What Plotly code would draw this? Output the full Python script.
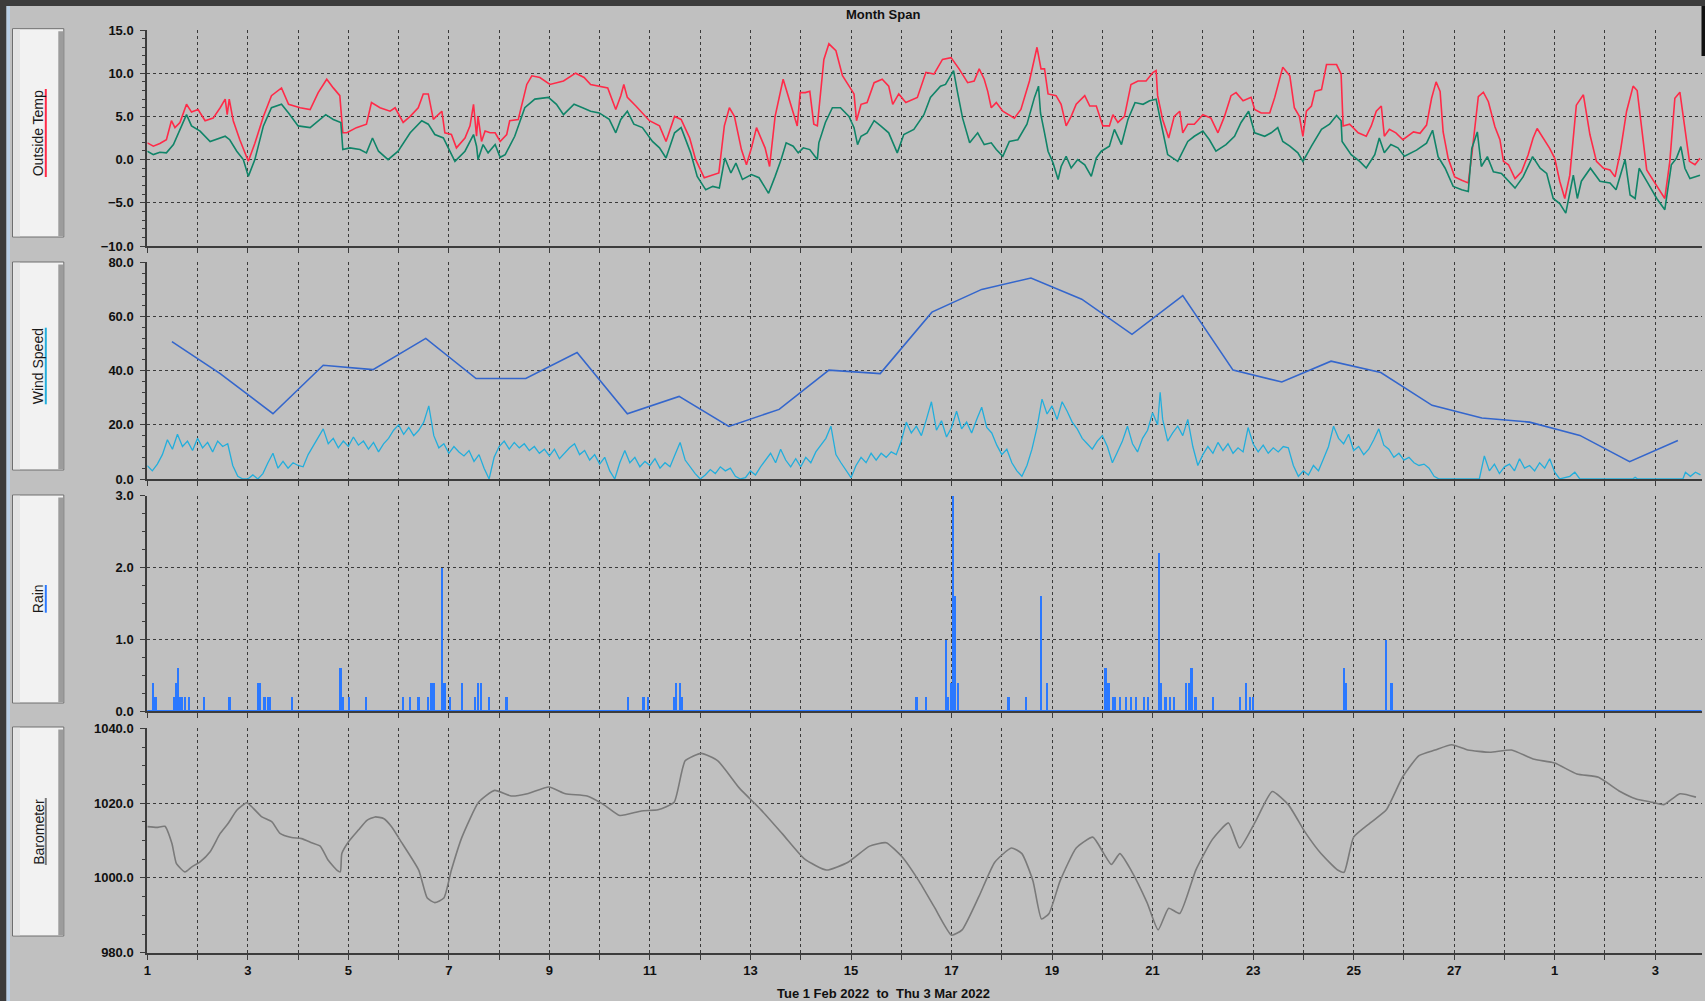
import plotly.graph_objects as go

# ---------------- DATA (day offset from Tue 1 Feb 2022 00:00) ----------------
temp_day = [0.0,0.12,0.25,0.38,0.48,0.55,0.65,0.78,0.88,1.01,1.15,1.31,1.45,1.55,1.59,1.63,1.71,1.84,2.01,2.14,2.31,2.47,2.67,2.81,3.04,3.24,3.40,3.57,3.70,3.83,3.89,3.97,4.16,4.36,4.46,4.63,4.83,4.93,5.09,5.23,5.39,5.49,5.59,5.69,5.86,5.92,6.05,6.15,6.32,6.42,6.49,6.55,6.58,6.65,6.72,6.82,6.92,7.02,7.15,7.21,7.38,7.55,7.65,7.81,8.01,8.28,
            8.52,8.69,8.82,8.99,9.16,9.32,9.42,9.48,9.55,9.72,9.89,9.99,10.19,10.32,10.49,10.62,10.79,10.91,11.08,11.25,11.37,11.48,11.58,11.68,11.82,11.92,12.02,12.12,12.22,12.29,12.38,12.49,12.65,12.79,12.93,12.99,13.09,13.18,13.26,13.33,13.46,13.56,13.70,13.83,14.00,14.06,14.11,14.20,14.32,14.46,14.62,14.75,14.83,14.95,15.09,15.32,15.49,15.65,15.82,15.99,16.15,16.32,16.45,16.55,16.65,
            16.72,16.79,16.89,17.02,17.25,17.38,17.55,17.70,17.78,17.85,17.92,18.08,18.18,18.28,18.38,18.48,18.65,18.75,18.88,19.01,19.14,19.21,19.31,19.44,19.57,19.71,19.87,20.01,20.07,20.10,20.20,20.32,20.43,20.54,20.60,20.70,20.83,21.00,21.16,21.30,21.43,21.56,21.66,21.80,21.96,22.03,22.16,22.33,22.43,22.59,22.73,22.82,22.92,22.99,23.06,23.16,23.23,23.36,23.46,23.66,23.75,23.79,23.92,24.09,24.25,24.35,24.45,24.55,24.61,24.71,24.84,24.98,
            25.19,25.32,25.45,25.55,25.64,25.72,25.78,25.88,26.01,26.15,26.28,26.35,26.48,26.58,26.68,26.81,26.91,26.98,27.08,27.21,27.34,27.47,27.57,27.65,27.77,27.90,28.00,28.10,28.20,28.30,28.43,28.57,28.70,28.83,28.97,29.10,29.20,29.30,29.43,29.56,29.64,29.73,29.83,29.96,30.09,30.19,30.29,30.39,30.49,30.59,30.68,30.79,30.89]
temp_val = [1.94,1.55,1.86,2.3,4.5,3.7,4.3,6.4,5.5,5.8,4.5,4.8,6.0,7.0,5.2,7.0,4.5,2.3,-0.2,1.9,5.0,7.4,8.3,6.4,6.0,5.8,7.75,9.3,8.3,7.4,3.1,3.1,3.7,4.1,6.6,6.0,5.6,6.0,4.3,5.0,6.0,7.6,7.6,4.65,5.6,3.1,2.9,1.36,2.5,3.9,6.4,2.7,5.0,2.1,3.3,3.1,3.1,2.1,2.9,4.5,4.65,8.7,9.7,9.5,8.7,9.1,
            10.0,9.5,8.7,8.5,8.3,5.8,7.4,8.7,7.2,6.2,5.2,4.5,3.9,2.1,5.0,4.65,2.5,0.0,-2.1,-1.74,-1.55,3.9,6.0,5.0,1.16,-0.6,1.36,3.7,2.3,1.36,-0.8,5.0,9.3,6.6,3.9,7.75,7.75,7.9,4.1,3.9,11.6,13.4,12.6,9.7,8.1,7.6,4.5,6.4,6.6,8.9,9.3,8.5,6.4,7.6,6.6,7.2,10.1,9.9,11.6,11.8,10.5,8.9,9.1,10.5,9.3,
            7.9,6.0,6.6,5.6,4.8,5.8,9.1,13.0,10.5,10.5,7.6,7.4,6.4,3.9,5.0,6.4,7.4,6.2,6.2,3.9,3.9,5.2,4.3,5.0,8.7,9.1,9.1,10.1,10.3,7.4,4.65,2.5,5.0,5.6,3.1,4.1,4.1,5.2,4.8,3.1,5.0,7.4,7.75,6.8,7.2,5.8,5.4,5.4,7.2,10.7,9.7,6.0,5.0,2.7,5.6,6.2,7.9,8.1,11.0,11.0,9.9,3.9,4.1,3.1,2.7,3.9,5.6,6.2,2.7,3.5,3.1,2.3,
            3.2,3.05,4.0,7.1,9.0,7.9,3.2,0.15,-2.0,-2.4,-2.7,0.54,7.3,7.8,6.7,3.8,2.3,-0.2,-0.6,-2.2,-1.4,0.54,2.5,3.6,2.5,1.3,0.15,-2.5,-4.5,-1.8,6.3,7.5,2.9,-0.2,-1.0,-1.2,-2.0,0.73,5.6,8.5,8.0,3.6,-1.2,-2.4,-3.5,-4.5,-0.2,7.1,7.8,3.6,-0.2,-0.6,0.15]

dew_day = [0.0,0.12,0.25,0.38,0.52,0.65,0.78,0.88,1.05,1.25,1.45,1.55,1.64,1.78,1.91,2.01,2.14,2.31,2.47,2.67,2.81,3.00,3.24,3.40,3.55,3.70,3.85,3.89,4.03,4.23,4.36,4.48,4.60,4.79,4.99,5.23,5.46,5.59,5.72,5.89,6.12,6.32,6.49,6.55,6.58,6.68,6.78,6.92,7.02,7.12,7.31,7.51,7.71,7.98,8.14,8.28,
           8.49,8.66,8.82,8.99,9.19,9.32,9.42,9.55,9.68,9.85,10.05,10.19,10.32,10.49,10.62,10.81,10.94,11.11,11.25,11.38,11.49,11.61,11.71,11.84,12.02,12.17,12.36,12.49,12.61,12.71,12.85,12.95,13.05,13.18,13.33,13.36,13.49,13.63,13.79,13.96,14.06,14.13,14.20,14.32,14.46,14.59,14.75,14.92,15.05,15.25,15.45,15.58,15.78,15.88,16.04,16.12,16.22,16.36,16.52,16.65,
           16.79,16.89,17.02,17.15,17.32,17.50,17.65,17.73,17.77,17.85,17.92,18.02,18.12,18.18,18.28,18.38,18.51,18.65,18.78,18.88,18.98,19.14,19.24,19.38,19.51,19.65,19.81,19.94,20.07,20.14,20.30,20.50,20.70,20.83,21.00,21.13,21.26,21.46,21.63,21.76,21.91,22.03,22.23,22.36,22.49,22.59,22.73,22.89,22.99,23.16,23.36,23.52,23.66,23.75,23.77,23.95,24.12,24.25,24.42,24.51,24.61,24.74,24.88,25.01,
           25.25,25.45,25.57,25.68,25.82,25.98,26.15,26.28,26.35,26.46,26.54,26.66,26.78,26.94,27.08,27.21,27.37,27.56,27.71,27.84,27.97,28.10,28.22,28.37,28.45,28.53,28.71,28.90,29.10,29.22,29.40,29.50,29.60,29.68,29.83,30.03,30.19,30.32,30.42,30.51,30.59,30.69,30.89]
dew_val = [0.97,0.58,0.85,0.78,1.74,3.5,5.2,3.9,3.3,2.1,2.5,2.7,2.3,0.97,0.0,-1.94,0.0,3.9,6.0,6.4,5.4,3.9,3.7,4.5,5.2,4.65,4.3,1.16,1.36,1.16,0.78,2.5,0.97,0.0,0.97,3.1,4.5,4.1,2.9,2.5,-0.2,0.97,2.9,1.55,0.0,1.74,0.78,1.74,0.27,0.58,2.7,6.0,7.0,7.2,6.4,5.2,
           6.4,6.0,5.6,5.4,4.65,3.1,4.65,5.6,4.1,3.7,2.1,1.36,0.19,3.1,3.7,0.78,-1.94,-3.5,-3.1,-3.3,0.19,-1.55,-0.4,-2.3,-1.74,-2.1,-3.9,-1.94,0.0,1.94,1.55,0.78,1.36,1.16,0.0,1.94,4.3,6.0,6.0,5.0,3.7,1.74,2.7,3.1,4.5,3.9,3.1,0.78,2.9,3.5,5.2,7.2,8.5,8.7,10.3,7.75,4.8,1.94,3.1,1.74,
           1.94,1.16,0.39,2.1,2.3,4.1,7.2,8.5,5.4,3.1,0.97,-0.4,-2.3,-0.8,0.39,-0.97,0.0,-0.6,-1.94,0.19,0.97,1.55,3.5,1.74,4.65,6.6,6.4,6.8,7.0,5.0,0.58,-0.2,2.1,2.7,3.3,2.3,0.97,1.74,2.7,4.3,5.6,3.1,2.7,3.1,3.7,2.1,1.55,0.78,-0.2,1.55,3.5,4.1,5.1,4.5,2.1,0.58,-0.2,-0.97,0.58,2.5,0.78,1.74,1.36,0.39,
           1.1,1.9,3.4,0.35,-1.0,-3.1,-3.5,-3.7,1.3,3.2,-0.8,0.35,-1.4,-1.6,-2.5,-3.3,-2.0,0.35,-1.0,-1.6,-4.5,-5.1,-6.2,-1.8,-4.5,-2.5,-1.0,-2.5,-2.7,-3.5,0.0,-4.1,-4.5,-1.0,-2.5,-4.5,-5.8,-0.6,0.15,1.5,-1.0,-2.2,-1.8]

gust_day = [0.49,1.45,2.50,3.50,4.49,5.54,6.54,7.53,8.55,9.55,10.58,11.57,12.57,13.56,14.58,15.61,16.60,17.58,18.59,19.59,20.60,21.60,22.57,23.55,24.54,25.56,26.55,27.50,28.50,29.49,30.45]
gust_val = [50.7,38.9,24.1,42.0,40.4,51.9,37.1,37.1,46.7,24.1,30.5,19.4,25.7,40.2,38.9,61.6,70.0,74.2,66.4,53.4,67.7,40.2,35.8,43.5,39.3,27.2,22.5,21.0,16.1,6.4,14.2]

wind_day = [0.0,0.1,0.2,0.3,0.4,0.5,0.6,0.7,0.8,0.9,1.0,1.1,1.2,1.3,1.4,1.5,1.6,1.7,1.8,1.9,2.0,2.1,2.2,2.3,2.4,2.5,2.6,2.7,2.8,2.9,
            3.0,3.1,3.2,3.3,3.4,3.5,3.6,3.7,3.8,3.9,4.0,4.1,4.2,4.3,4.4,4.5,4.6,4.7,4.8,4.9,5.0,5.1,5.2,5.3,5.4,5.5,5.6,5.7,5.8,5.9,
            6.0,6.1,6.2,6.3,6.4,6.5,6.6,6.7,6.8,6.9,7.0,7.1,7.2,7.3,7.4,7.5,7.6,7.7,7.8,7.9,8.0,8.1,8.2,8.3,8.4,8.5,8.6,8.7,8.8,8.9,
            9.0,9.1,9.2,9.3,9.4,9.5,9.6,9.7,9.8,9.9,10.0,10.1,10.2,10.3,10.4,10.5,10.6,10.7,10.8,10.9,11.0,11.1,11.2,11.3,11.4,11.5,11.6,11.7,11.8,11.9,
            12.0,12.1,12.2,12.3,12.4,12.5,12.6,12.7,12.8,12.9,13.0,13.1,13.2,13.3,13.4,13.5,13.6,13.7,13.8,13.9,14.0,14.1,14.2,14.3,14.4,14.5,14.6,14.7,14.8,14.9,
            15.0,15.1,15.2,15.3,15.4,15.5,15.6,15.7,15.8,15.9,16.0,16.1,16.2,16.3,16.4,16.5,16.6,16.7,16.8,16.9,17.0,17.1,17.2,17.3,17.4,17.5,17.6,17.7,17.8,17.9,
            18.0,18.1,18.2,18.3,18.4,18.5,18.6,18.7,18.8,18.9,19.0,19.1,19.2,19.3,19.4,19.5,19.6,19.7,19.8,19.9,20.0,20.1,20.15,20.2,20.3,20.4,20.5,20.6,20.7,20.8,20.9,
            21.0,21.1,21.2,21.3,21.4,21.5,21.6,21.7,21.8,21.9,22.0,22.1,22.2,22.3,22.4,22.5,22.6,22.7,22.8,22.9,23.0,23.1,23.2,23.3,23.4,23.5,23.6,23.7,23.8,23.9,
            24.0,24.1,24.2,24.3,24.4,24.5,24.6,24.7,24.8,24.9,25.0,25.1,25.2,25.3,25.4,25.5,25.6,25.7,26.5,26.6,26.7,26.8,26.9,27.0,27.1,27.2,27.3,27.4,27.5,27.6,
            27.7,27.8,27.9,28.0,28.1,28.3,28.4,28.5,29.55,29.6,29.65,30.55,30.6,30.7,30.8,30.9]
wind_val = [4.9,3.0,5.5,9.0,14.5,11.0,16.5,12.0,14.0,10.5,15.0,11.5,13.5,10.0,14.0,12.0,13.0,5.0,1.0,0.0,0.0,1.5,0.0,2.0,6.0,9.5,4.0,6.5,4.0,6.0,
            5.0,4.5,9.0,12.0,15.5,18.5,13.0,15.0,11.5,14.0,12.0,15.5,12.5,14.0,11.0,13.5,10.0,13.0,15.0,18.0,20.0,16.5,19.0,16.0,18.0,21.0,27.0,16.0,11.5,13.0,
            9.5,12.0,10.0,8.5,10.5,6.5,9.0,4.0,0.0,8.0,12.0,14.0,11.0,13.5,11.5,13.0,10.5,12.0,9.5,11.0,8.5,11.0,7.5,9.5,11.5,13.0,9.0,10.5,7.0,9.0,
            5.5,8.0,3.0,0.0,6.0,10.5,6.0,8.0,4.5,6.5,5.0,7.5,4.0,6.0,4.5,9.0,13.5,7.0,4.5,2.0,0.0,1.5,3.5,2.0,4.5,3.0,4.0,1.0,0.0,0.5,
            3.0,1.5,4.5,7.0,9.5,6.0,11.0,7.0,4.5,7.5,4.5,8.0,6.0,10.0,12.5,15.0,19.5,9.0,6.0,3.0,0.5,5.0,8.0,6.0,9.5,7.0,9.5,8.0,10.0,9.0,
            14.0,21.0,17.0,19.5,16.0,22.0,28.5,18.0,21.5,15.5,19.0,25.0,18.5,21.0,17.0,22.0,26.5,19.0,17.0,12.5,9.0,11.0,6.0,3.0,1.0,5.0,11.0,19.0,29.5,24.0,
            27.0,22.0,28.5,25.0,21.0,18.5,15.0,13.0,11.0,14.0,16.0,12.0,6.0,10.0,14.0,19.5,13.0,10.0,15.0,18.0,24.5,20.0,32.0,22.0,14.0,17.0,19.5,16.0,22.0,12.0,5.0,
            9.0,12.0,9.5,13.5,10.5,13.0,9.5,11.5,10.0,19.0,13.0,10.0,12.5,9.5,11.5,10.0,12.0,11.5,5.0,1.0,3.0,1.5,5.0,3.0,7.5,12.0,19.5,15.0,13.0,16.5,
            10.5,12.0,9.0,11.0,14.5,18.5,12.5,11.0,8.0,9.5,7.0,8.0,6.0,5.0,5.5,4.0,1.0,0.0,0.0,8.5,3.0,5.5,2.0,4.5,5.5,3.0,7.5,4.0,5.0,3.0,
            6.0,4.0,7.5,2.5,0.0,1.0,2.5,0.0,0.0,0.6,0.0,0.0,2.5,1.0,2.5,1.5]

rain_day = [0.12,0.17,0.53,0.58,0.62,0.65,0.70,0.75,0.83,1.13,1.64,2.21,2.25,2.34,2.41,2.45,2.88,3.85,3.90,4.02,4.35,
            5.10,5.23,5.40,5.59,5.66,5.70,5.87,5.92,6.03,6.26,6.52,6.59,6.65,6.80,7.15,
            9.57,9.88,9.96,10.48,10.52,10.61,10.65,
            15.31,15.50,15.89,15.93,16.00,16.04,16.08,16.13,
            17.14,17.49,17.79,17.90,
            19.07,19.13,19.22,19.26,19.35,19.48,19.57,19.67,19.83,19.91,20.13,20.17,20.26,20.35,20.43,20.67,20.73,20.78,20.86,21.21,21.75,21.86,21.95,22.01,
            23.81,23.85,24.65,24.76]
rain_val = [0.4,0.2,0.2,0.4,0.6,0.2,0.2,0.2,0.2,0.2,0.2,0.4,0.4,0.2,0.2,0.2,0.2,0.6,0.2,0.2,0.2,
            0.2,0.2,0.2,0.2,0.4,0.4,2.0,0.4,0.2,0.4,0.2,0.4,0.4,0.2,0.2,
            0.2,0.2,0.2,0.2,0.4,0.4,0.2,
            0.2,0.2,1.0,0.2,0.4,3.0,1.6,0.4,
            0.2,0.2,1.6,0.4,
            0.6,0.4,0.2,0.2,0.2,0.2,0.2,0.2,0.2,0.2,2.2,0.4,0.2,0.2,0.2,0.4,0.4,0.6,0.2,0.2,0.2,0.4,0.2,0.2,
            0.6,0.4,1.0,0.4]

baro_day = [0.0,0.19,0.35,0.49,0.58,0.75,0.88,1.05,1.25,1.45,1.61,1.78,1.98,2.11,2.28,2.48,2.64,2.87,3.07,3.27,3.44,3.60,3.77,3.84,3.87,4.00,4.20,4.37,4.53,4.70,4.86,5.03,
            5.40,5.57,5.72,5.90,6.05,6.26,6.59,6.91,7.24,7.56,7.99,8.32,8.75,9.08,9.40,9.83,10.16,10.48,10.70,11.02,11.35,11.78,12.21,12.64,13.08,13.51,13.94,14.37,14.70,15.02,15.35,15.67,16.00,16.21,16.54,16.86,17.19,17.40,17.62,17.79,17.94,18.16,18.48,18.81,19.03,19.18,19.35,19.57,19.89,20.11,20.32,20.54,20.86,21.19,21.51,21.73,22.05,22.38,22.70,23.03,23.35,23.68,23.81,24.00,24.33,24.65,24.97,25.30,25.62,25.95,26.27,26.71,27.14,27.57,28.00,28.44,28.87,29.30,29.62,29.95,30.17,30.49,30.81]
baro_val = [1013.7,1013.5,1013.8,1009.2,1003.8,1001.6,1002.9,1004.3,1007.0,1011.9,1014.6,1018.1,1020.1,1018.6,1016.3,1015.0,1011.9,1010.8,1010.5,1009.4,1008.5,1004.7,1002.1,1001.6,1006.5,1009.6,1012.8,1015.4,1016.3,1015.9,1013.7,1010.1,
            1002.1,994.6,993.4,994.6,1002.1,1010.9,1020.2,1023.4,1021.9,1022.5,1024.3,1022.5,1021.9,1019.6,1016.7,1017.9,1018.2,1020.2,1031.3,1033.3,1031.3,1024.0,1018.2,1011.7,1005.0,1002.1,1004.2,1008.5,1009.4,1005.6,999.2,991.9,984.7,986.1,994.9,1004.2,1008.0,1006.5,999.2,989.0,990.5,999.2,1008.0,1010.9,1006.5,1003.6,1006.5,1002.1,993.4,986.1,991.9,990.5,1002.1,1010.3,1014.7,1008.0,1015.2,1023.1,1019.6,1012.3,1006.5,1002.1,1001.5,1010.9,1014.7,1018.2,1026.9,1032.7,1034.2,1035.6,1034.2,1033.6,1034.2,1031.8,1030.7,1027.8,1026.9,1023.1,1021.1,1020.2,1019.6,1022.5,1021.6]

x_label_days = [0, 2, 4, 6, 8, 10, 12, 14, 16, 18, 20, 22, 24, 26, 28, 30]
x_labels = ["1", "3", "5", "7", "9", "11", "13", "15", "17", "19", "21", "23", "25", "27", "1", "3"]
panel_names = ["Outside Temp", "Wind Speed", "Rain", "Barometer"]
title_text = "Month Span"
x_title = "Tue 1 Feb 2022\u00a0\u00a0to\u00a0\u00a0Thu 3 Mar 2022"

# ---------------- FIGURE ----------------
W, H = 1705, 1001
def fx(x): return x / W
def fy(y): return 1 - y / H

BG = "#c0c0c0"
AX = "#3c3c3c"
TICKFONT = dict(family="Liberation Sans Narrow, Arial Narrow, Liberation Sans, Arial", size=13, color="#101010", weight="bold")

fig = go.Figure()
fig.add_trace(go.Scatter(x=temp_day, y=temp_val, xaxis="x", yaxis="y", mode="lines",
                         line=dict(color="#ff2a48", width=1.6)))
fig.add_trace(go.Scatter(x=dew_day, y=dew_val, xaxis="x", yaxis="y", mode="lines",
                         line=dict(color="#108468", width=1.6)))
fig.add_trace(go.Scatter(x=gust_day, y=gust_val, xaxis="x2", yaxis="y2", mode="lines",
                         line=dict(color="#3466cc", width=1.6)))
fig.add_trace(go.Scatter(x=wind_day, y=wind_val, xaxis="x2", yaxis="y2", mode="lines",
                         line=dict(color="#22aedc", width=1.3)))
fig.add_trace(go.Bar(x=rain_day, y=rain_val, xaxis="x3", yaxis="y3", width=0.045,
                     marker=dict(color="#2a78ff", line=dict(width=0))))
fig.add_trace(go.Scatter(x=baro_day, y=baro_val, xaxis="x4", yaxis="y4", mode="lines",
                         line=dict(color="#7a7a7a", width=1.6, shape="spline", smoothing=0.5)))

panels = [(30.0, 246.0), (262.3, 479.0), (495.7, 711.0), (728.3, 952.7)]
yspecs = [dict(range=[-10, 15], dtick=5, tick0=-10, minor=1),
          dict(range=[0, 80], dtick=20, tick0=0, minor=4),
          dict(range=[0, 3], dtick=1, tick0=0, minor=0.25),
          dict(range=[980, 1040], dtick=20, tick0=980, minor=5)]
xdom = [fx(147.3), fx(1701.5)]
xrange = [0, 30.92]
grid_vals = list(range(0, 31))
grid_text = []
for d in grid_vals:
    grid_text.append(x_labels[x_label_days.index(d)] if d in x_label_days else "")

layout = dict(width=W, height=H, autosize=False, paper_bgcolor=BG, plot_bgcolor=BG,
              margin=dict(l=0, r=0, t=0, b=0, autoexpand=False), showlegend=False, bargap=0)
for i, ((top, bot), ys) in enumerate(zip(panels, yspecs)):
    n = "" if i == 0 else str(i + 1)
    layout["xaxis" + n] = dict(domain=xdom, anchor="y" + n, range=xrange, tickmode="array",
                               tickvals=grid_vals, ticktext=grid_text, showticklabels=(i == 3),
                               ticks="outside", ticklen=5, tickwidth=1, tickcolor=AX,
                               showline=True, linecolor=AX, linewidth=2, automargin=False,
                               showgrid=True, gridcolor="#3a3a3a", gridwidth=1, griddash="3px,3px",
                               zeroline=False, tickfont=TICKFONT, fixedrange=True)
    layout["yaxis" + n] = dict(domain=[fy(bot), fy(top)], anchor="x" + n, range=ys["range"],
                               tickmode="linear", tick0=ys["tick0"], dtick=ys["dtick"], tickformat=".1f",
                               ticks="outside", ticklen=5, tickwidth=1, tickcolor=AX,
                               minor=dict(dtick=ys["minor"], tick0=ys["tick0"], ticks="outside", ticklen=3,
                                          tickcolor=AX, showgrid=False),
                               showline=True, linecolor=AX, linewidth=2, automargin=False,
                               showgrid=True, gridcolor="#3a3a3a", gridwidth=1, griddash="3px,3px",
                               zeroline=False, tickfont=TICKFONT, ticklabelstandoff=4, fixedrange=True)
fig.update_layout(**layout)

shapes = []
shapes.append(dict(type="rect", xref="paper", yref="paper", x0=0, x1=1, y0=fy(6), y1=1,
                   fillcolor="#3c3c3c", line=dict(width=0), layer="below"))
shapes.append(dict(type="rect", xref="paper", yref="paper", x0=0, x1=fx(6.5), y0=0, y1=1,
                   fillcolor="#3c3c3c", line=dict(width=0), layer="below"))
shapes.append(dict(type="rect", xref="paper", yref="paper", x0=fx(6.5), x1=fx(10), y0=0, y1=fy(6),
                   fillcolor="#b9cfe6", line=dict(width=0), layer="below"))
shapes.append(dict(type="rect", xref="paper", yref="paper", x0=fx(1701.5), x1=1, y0=fy(56), y1=fy(6),
                   fillcolor="#111111", line=dict(width=0), layer="below"))

btn_rows = [(28.7, 237.0), (262.0, 470.0), (495.0, 703.0), (727.0, 936.0)]
underline_spans = [(89.0, 177.0), (327.7, 404.3), (585.0, 612.7), (798.0, 865.0)]
underline_colors = ["#ff2a48", "#22aedc", "#2a78ff", "#7a7a7a"]
annotations = []
for (bt, bb), (ut, ub), uc, name in zip(btn_rows, underline_spans, underline_colors, panel_names):
    shapes.append(dict(type="rect", xref="paper", yref="paper", x0=fx(12.5), x1=fx(63.8), y0=fy(bb), y1=fy(bt),
                       fillcolor="#f2f2f2", line=dict(color="#6e6e6e", width=1)))
    shapes.append(dict(type="rect", xref="paper", yref="paper", x0=fx(13.2), x1=fx(20), y0=fy(bb - 0.7), y1=fy(bt + 0.7),
                       fillcolor="#e4e4e4", line=dict(width=0)))
    shapes.append(dict(type="rect", xref="paper", yref="paper", x0=fx(58.3), x1=fx(63.2), y0=fy(bb - 0.7), y1=fy(bt + 2.5),
                       fillcolor="#9c9c9c", line=dict(width=0)))
    shapes.append(dict(type="line", xref="paper", yref="paper", x0=fx(45.8), x1=fx(45.8), y0=fy(ub), y1=fy(ut),
                       line=dict(color=uc, width=2)))
    annotations.append(dict(text=name, xref="paper", yref="paper", x=fx(38.3), y=fy((ut + ub) / 2),
                            textangle=-90, showarrow=False, xanchor="center", yanchor="middle",
                            font=dict(family="Liberation Sans, Arial", size=14, color="#1a1a1a")))

shapes.append(dict(type="line", xref="x3 domain", yref="y3", x0=0, x1=1, y0=0, y1=0,
                   line=dict(color="#2a78ff", width=2)))

annotations.append(dict(text=title_text, xref="paper", yref="paper", x=fx(883), y=fy(14.5),
                        showarrow=False, xanchor="center", yanchor="middle",
                        font=dict(family="Liberation Sans Narrow, Arial Narrow, Liberation Sans", size=13,
                                  color="#101010", weight="bold")))
annotations.append(dict(text=x_title, xref="paper", yref="paper", x=fx(883), y=fy(993),
                        showarrow=False, xanchor="center", yanchor="middle",
                        font=dict(family="Liberation Sans Narrow, Arial Narrow, Liberation Sans", size=13,
                                  color="#101010", weight="bold")))
fig.update_layout(shapes=shapes, annotations=annotations)

reset_css = ("var s=document.createElement('style');"
             "s.textContent='html,body{margin:0 !important;padding:0 !important;overflow:hidden !important;background:#c0c0c0;}';"
             "document.head.appendChild(s);")
fig.write_html("out.html", config={"displayModeBar": False, "responsive": False},
               post_script=reset_css)
